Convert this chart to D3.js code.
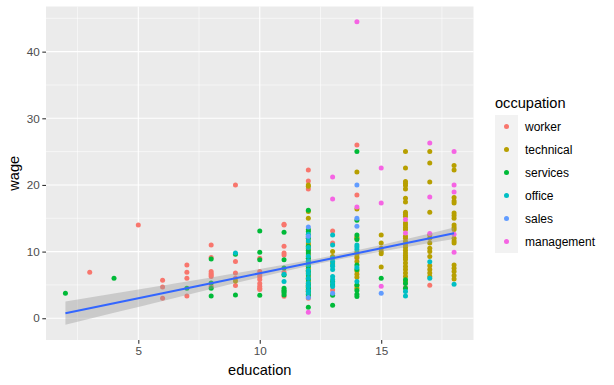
<!DOCTYPE html>
<html>
<head>
<meta charset="utf-8">
<script src="https://cdn.jsdelivr.net/npm/d3@7"></script>
<style>
  body { margin: 0; background: #fff; }
  svg { display: block; font-family: "Liberation Sans", Arial, sans-serif; }
</style>
</head>
<body>
<div id="chart"></div>
<script>
var occupations = ['worker', 'technical', 'services', 'office', 'sales', 'management'];
var colors = ['#F8766D', '#B79F00', '#00BA38', '#00BFC4', '#619CFF', '#F564E3'];

// [education, [wages...]]
var worker = [
    [3, [6.9]], [5, [14]], [6, [5.7, 4.67, 3.0]], [7, [8, 6.9, 6, 3.35]],
    [8, [11, 9.1, 7.0, 6.7, 6.5, 6.25, 4.8]], [9, [20, 8.5, 6.8, 6.0, 4.9]],
    [10, [9.0, 7.0, 6.5, 6.2, 5.8, 5.2, 4.8, 4.5, 4.3]],
    [11, [14.1, 14.0, 10.8, 9.8, 9.5, 6.9, 3.3]],
    [12, [22.25, 20.6, 19.4, 12.0, 10.0, 9.0, 8.0, 7.0, 6.0, 5.0, 4.0, 3.0]],
    [13, [13.1, 11.3, 4.25]], [14, [26.0, 18.5, 9.0]], [16, [4.6]], [17, [4.96]]
];
var technical = [
    [9, [5.6]],
    [12, [20.0, 19.8, 16.0, 15.0, 12.5, 11.3, 11.0, 10.5, 9.5, 8.2, 7.5, 7.2, 6.8, 6.2, 5.5, 5.0,
          4.7, 4.4, 4.0]],
    [13, [10.0, 9.26, 8.3]],
    [14, [21.95, 16.4, 12.2, 12.0, 9.9, 9.6, 9.2, 8.5, 7.1, 6.6, 6.16, 4.9, 4.5]],
    [15, [12.5, 11.3, 10.5, 10.0, 9.67, 7.67]],
    [16, [25, 22.55, 20.5, 20.2, 19.9, 19.4, 18.0, 17.45, 15.9, 15.6, 15.3, 14.3, 14.0, 13.6, 13.3,
          12.3, 12.0, 11.5, 11.0, 10.6, 10.2, 9.8, 9.4, 9.1, 8.8, 8.3, 7.76, 7.3, 6.8, 6.25, 5.5]],
    [17, [25, 23.3, 20.45, 15.9, 12.5, 12.0, 11.3, 10.5, 10.0, 9.26, 7.86, 7.3, 6.8, 6.25]],
    [18, [22.9, 22.25, 18.1, 17.6, 17.3, 15.8, 15.4, 15.0, 14.0, 13.6, 13.3, 12.0, 11.6, 11.3,
          8.0, 7.5, 7.0, 6.4, 5.9]]
];
var services = [
    [2, [3.75]], [4, [6]], [7, [4.5]], [8, [8.9, 5.3, 4.5, 3.35]], [9, [9.6, 3.5]],
    [10, [13.1, 9.9, 8.77, 3.45]],
    [11, [12.9, 8.77, 7.55, 6.5, 4.5, 4.2, 4.0, 3.8, 3.5]],
    [12, [16.2, 13.3, 13.0, 12.0, 10.8, 10.2, 9.8, 9.0, 8.5, 7.8, 7.0, 6.5, 5.8, 5.2, 4.9, 4.6,
          4.3, 4.0, 3.6, 3.35, 1.65]],
    [13, [5.5, 5.0, 3.45, 1.95]],
    [14, [25.0, 14.7, 12.5, 11.8, 8.0, 7.3, 5.0, 4.15, 3.6, 3.25]],
    [15, [6.0]], [16, [5.76, 5.2, 4.5]]
];
var office = [
    [9, [9.8]], [11, [6.6, 5.5]],
    [12, [12.6, 12.2, 11.6, 10.6, 9.3, 8.6, 8.0, 7.2, 6.7, 6.0, 5.3, 4.8, 4.2, 3.8]],
    [13, [12.5, 11.0, 9.0, 8.5, 8.0, 7.8, 7.3, 6.25, 5.8, 5.3, 4.75]],
    [14, [11.0, 10.7, 10.3, 7.6, 5.5]],
    [16, [4.0, 3.35]], [17, [8.47, 6.0]], [18, [5.1]]
];
var sales = [
    [12, [13.7, 12.3, 3.1]], [13, [3.75]], [14, [20.0, 15.0, 13.8]], [15, [3.75]]
];
var management = [
    [12, [0.9]], [13, [21.2, 17.9]], [14, [44.5, 16.7]], [15, [22.55, 17.3, 4.8]],
    [16, [14.8, 12.8]], [17, [26.3, 18.2, 12.7]], [18, [25, 20, 18.95, 12.6, 9.9]]
];

// linear smooth with 95% band
var smoothEdu = [2, 4, 6, 8, 10, 12, 13, 14, 16, 18];
var smoothFit = [0.76, 2.26, 3.76, 5.26, 6.76, 8.26, 9.01, 9.76, 11.26, 12.76];
var smoothLo = [-0.99, 0.81, 2.60, 4.39, 6.14, 7.83, 8.61, 9.33, 10.65, 11.89];
var smoothHi = [2.51, 3.71, 4.92, 6.13, 7.38, 8.69, 9.41, 10.19, 11.87, 13.63];

var xTicks = [5, 10, 15];
var xMinor = [2.5, 7.5, 12.5, 17.5];
var yTicks = [0, 10, 20, 30, 40];
var yMinor = [5, 15, 25, 35, 45];

var width = 614, height = 385;
var panel = { left: 46, right: 473.5, top: 6.5, bottom: 340 };

var groups = [worker, technical, services, office, sales, management];
var points = [];
groups.forEach(function(g, i) {
    g.forEach(function(col) {
        col[1].forEach(function(w) {
            points.push({ edu: col[0], wage: w, occ: occupations[i] });
        });
    });
});

function expand(ext) {
    var pad = (ext[1] - ext[0]) * 0.05;
    return [ext[0] - pad, ext[1] + pad];
}

var xExt = d3.extent(points, function(d) { return d.edu; });
var yExt = [
    Math.min(d3.min(points, function(d) { return d.wage; }), d3.min(smoothLo)),
    Math.max(d3.max(points, function(d) { return d.wage; }), d3.max(smoothHi))
];

var x = d3.scaleLinear().domain(expand(xExt)).range([panel.left, panel.right]);
var y = d3.scaleLinear().domain(expand(yExt)).range([panel.bottom, panel.top]);
var color = d3.scaleOrdinal().domain(occupations).range(colors);

var svg = d3.select('#chart').append('svg')
    .attr('width', width)
    .attr('height', height);

svg.append('rect')
    .attr('x', panel.left).attr('y', panel.top)
    .attr('width', panel.right - panel.left)
    .attr('height', panel.bottom - panel.top)
    .attr('fill', '#EBEBEB');

var grid = svg.append('g').attr('stroke', '#fff');
grid.selectAll('.ymin').data(yMinor).enter().append('line')
    .attr('x1', panel.left).attr('x2', panel.right)
    .attr('y1', y).attr('y2', y).attr('stroke-width', 0.55);
grid.selectAll('.xmin').data(xMinor).enter().append('line')
    .attr('y1', panel.top).attr('y2', panel.bottom)
    .attr('x1', x).attr('x2', x).attr('stroke-width', 0.55);
grid.selectAll('.ymaj').data(yTicks).enter().append('line')
    .attr('x1', panel.left).attr('x2', panel.right)
    .attr('y1', y).attr('y2', y).attr('stroke-width', 1.1);
grid.selectAll('.xmaj').data(xTicks).enter().append('line')
    .attr('y1', panel.top).attr('y2', panel.bottom)
    .attr('x1', x).attr('x2', x).attr('stroke-width', 1.1);

svg.append('g')
    .selectAll('circle')
    .data(points)
    .enter().append('circle')
    .attr('cx', function(d) { return x(d.edu); })
    .attr('cy', function(d) { return y(d.wage); })
    .attr('r', 2.5)
    .attr('fill', function(d) { return color(d.occ); });

var band = smoothEdu.map(function(e, i) {
    return { edu: e, fit: smoothFit[i], lo: smoothLo[i], hi: smoothHi[i] };
});

svg.append('path')
    .datum(band)
    .attr('fill', '#999999')
    .attr('fill-opacity', 0.4)
    .attr('d', d3.area()
        .curve(d3.curveMonotoneX)
        .x(function(d) { return x(d.edu); })
        .y0(function(d) { return y(d.lo); })
        .y1(function(d) { return y(d.hi); }));

svg.append('path')
    .datum(band)
    .attr('fill', 'none')
    .attr('stroke', '#3366FF')
    .attr('stroke-width', 2.1)
    .attr('d', d3.line()
        .x(function(d) { return x(d.edu); })
        .y(function(d) { return y(d.fit); }));

var xAxis = svg.append('g')
    .attr('transform', 'translate(0,' + panel.bottom + ')')
    .call(d3.axisBottom(x).tickValues(xTicks).tickSize(3.7).tickPadding(2.5));
var yAxis = svg.append('g')
    .attr('transform', 'translate(' + panel.left + ',0)')
    .call(d3.axisLeft(y).tickValues(yTicks).tickSize(3.7).tickPadding(2.5));

[xAxis, yAxis].forEach(function(a) {
    a.select('.domain').remove();
    a.selectAll('line').attr('stroke', '#333333').attr('stroke-width', 1.1);
    a.selectAll('text')
        .attr('fill', '#4D4D4D')
        .style('font-size', '11.7px')
        .style('font-family', '"Liberation Sans", Arial, sans-serif');
});

svg.append('text')
    .attr('x', (panel.left + panel.right) / 2)
    .attr('y', 375)
    .attr('text-anchor', 'middle')
    .style('font-size', '14.6px')
    .text('education');

svg.append('text')
    .attr('transform', 'translate(19,' + ((panel.top + panel.bottom) / 2) + ') rotate(-90)')
    .attr('text-anchor', 'middle')
    .style('font-size', '14.6px')
    .text('wage');

var legend = svg.append('g').attr('transform', 'translate(495,0)');
legend.append('text')
    .attr('x', 0).attr('y', 108)
    .style('font-size', '14.6px')
    .text('occupation');

var key = legend.selectAll('.key')
    .data(occupations)
    .enter().append('g')
    .attr('transform', function(d, i) { return 'translate(0,' + (115 + i * 23) + ')'; });

key.append('rect')
    .attr('width', 23).attr('height', 23)
    .attr('fill', '#F2F2F2');
key.append('circle')
    .attr('cx', 11.5).attr('cy', 11.5).attr('r', 2.5)
    .attr('fill', function(d) { return color(d); });
key.append('text')
    .attr('x', 30).attr('y', 11.5)
    .attr('dy', '0.35em')
    .style('font-size', '12px')
    .text(function(d) { return d; });
</script>
</body>
</html>
